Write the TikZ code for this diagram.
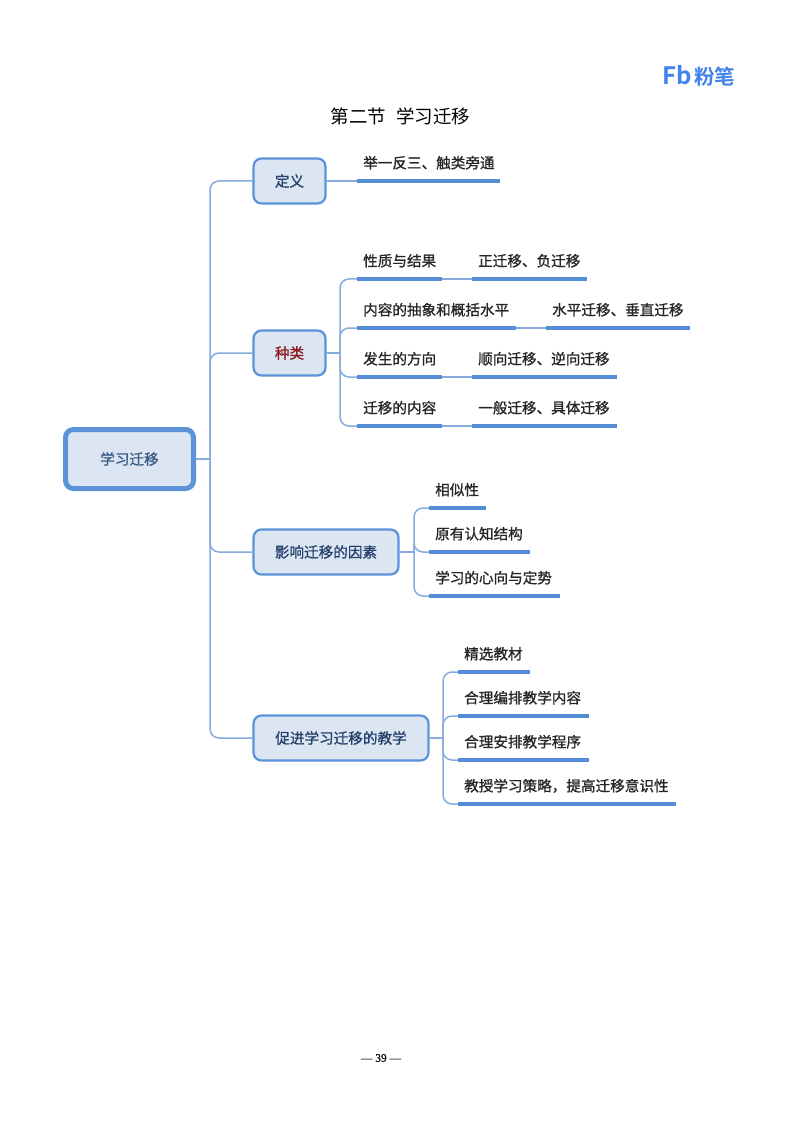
\documentclass[tikz,border=0pt]{standalone}
\usepackage{fontspec}
\setmainfont{Noto Sans CJK SC}
\newfontfamily\zh[FakeBold=1.1]{Noto Sans CJK SC}
\newfontfamily\zhb{Noto Sans CJK SC Bold}
\newfontfamily\tnr[FakeBold=0.4]{Liberation Serif}
\definecolor{bfill}{HTML}{DCE6F2}
\definecolor{bline}{HTML}{5B92D8}
\definecolor{cline}{HTML}{86ABDC}
\definecolor{ulc}{HTML}{558CD6}
\definecolor{navy}{HTML}{24406B}
\definecolor{rootc}{HTML}{3A5A86}
\definecolor{dred}{HTML}{8C1A1E}
\definecolor{logoc}{HTML}{4383EE}
\tikzset{
  x=1pt,y=-1pt,
  topic/.style={draw=bline,fill=bfill,line width=2.2pt,rounded corners=8pt,inner sep=0pt,
    font=\zh\fontsize{14.6}{14}\selectfont,text=navy,minimum height=45pt},
  rootbox/.style={draw=bline,fill=bfill,line width=5pt,rounded corners=8pt,inner sep=0pt,
    font=\zh\fontsize{14.6}{14}\selectfont,text=rootc,minimum width=128pt,minimum height=59pt},
  conn/.style={draw=cline,line width=1.5pt,rounded corners=9pt},
  leaf/.style={anchor=south west,inner xsep=6pt,inner ysep=0pt,align=left,
    font=\zh\fontsize{14.6}{14}\selectfont,text=black!85,text height=12pt,text depth=12.5pt,
    append after command={\pgfextra{\draw[draw=ulc,line width=3.2pt] (\tikzlastnode.south west) -- (\tikzlastnode.south east);}}},
}
\begin{document}
\begin{tikzpicture}
\useasboundingbox (0,0) rectangle (800,1131);
% header
\node[font=\fontsize{18.5}{18}\selectfont,text=black] (title) at (400.5,116) {第二节\hspace{0.55em}学习迁移};
\node[text=logoc,inner sep=0pt] (logo) at (699,75.5) {\zhb\fontsize{24}{24}\selectfont Fb\hspace{2pt}\fontsize{20.5}{20}\selectfont 粉笔};
\node[font=\tnr\fontsize{11.5}{11}\selectfont,inner sep=0pt] (pagenum) at (381,1058) {— 39 —};
% topics
\node[rootbox] (root) at (129.5,459) {学习迁移};
\node[topic,minimum width=72pt] (t1) at (289.5,181) {定义};
\node[topic,minimum width=72pt,text=dred] (t2) at (289.5,353) {种类};
\node[topic,minimum width=145pt] (t3) at (326,552) {影响迁移的因素};
\node[topic,minimum width=175pt] (t4) at (341,738) {促进学习迁移的教学};
% leaves
\node[leaf,text width=131pt] (a0) at (357,181) {举一反三、触类旁通};
\node[leaf,text width=73pt] (a1) at (357,279) {性质与结果};
\node[leaf,text width=103pt] (b1) at (472,279) {正迁移、负迁移};
\node[leaf,text width=147pt] (a2) at (357,328) {内容的抽象和概括水平};
\node[leaf,text width=132pt] (b2) at (546,328) {水平迁移、垂直迁移};
\node[leaf,text width=73pt] (a3) at (357,377) {发生的方向};
\node[leaf,text width=133pt] (b3) at (472,377) {顺向迁移、逆向迁移};
\node[leaf,text width=73pt] (a4) at (357,426) {迁移的内容};
\node[leaf,text width=133pt] (b4) at (472,426) {一般迁移、具体迁移};
\node[leaf,text width=45pt] (c1) at (429,508) {相似性};
\node[leaf,text width=89pt] (c2) at (429,552) {原有认知结构};
\node[leaf,text width=119pt] (c3) at (429,596) {学习的心向与定势};
\node[leaf,text width=60pt] (d1) at (458,672) {精选教材};
\node[leaf,text width=119pt] (d2) at (458,716) {合理编排教学内容};
\node[leaf,text width=119pt] (d3) at (458,760) {合理安排教学程序};
\node[leaf,text width=206pt] (d4) at (458,804) {教授学习策略，提高迁移意识性};
% junctions
\coordinate (jr) at (210,459);
\coordinate (j2) at (340,353);
\coordinate (j3) at (414,552);
\coordinate (j4) at (443,738);
% connectors
\draw[conn] (root.east) -- (jr);
\foreach \n in {t1,t2,t3,t4} \draw[conn] (jr) |- (\n.west);
\draw[conn] (t1.east) -- (a0.south west);
\draw[conn] (t2.east) -- (j2);
\foreach \n in {a1,a2,a3,a4} \draw[conn] (j2) |- (\n.south west);
\foreach \n/\m in {a1/b1,a2/b2,a3/b3,a4/b4} \draw[conn] (\n.south east) -- (\m.south west);
\draw[conn] (t3.east) -- (j3);
\foreach \n in {c1,c2,c3} \draw[conn] (j3) |- (\n.south west);
\draw[conn] (t4.east) -- (j4);
\foreach \n in {d1,d2,d3,d4} \draw[conn] (j4) |- (\n.south west);
\end{tikzpicture}
\end{document}
